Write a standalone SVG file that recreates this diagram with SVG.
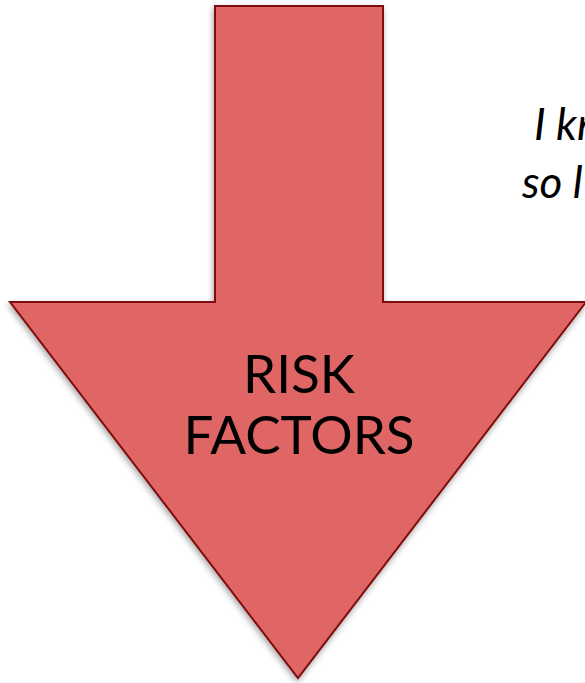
<svg xmlns="http://www.w3.org/2000/svg" width="585" height="683" viewBox="0 0 585 683">
  <defs>
    <filter id="shadow" x="-10%" y="-10%" width="120%" height="120%">
      <feDropShadow dx="-1" dy="3" stdDeviation="3" flood-color="#000" flood-opacity="0.35"/>
    </filter>
    <style>
      .arrow { fill: #e06666; stroke: #7f0d0d; stroke-width: 2; stroke-linejoin: miter; }
      .label { font-family: "Source Sans Pro", "Lato", "Noto Sans", sans-serif; font-size: 53px; fill: #000; text-anchor: middle; }
      .note { font-family: "Source Sans Pro", "Lato", "Noto Sans", sans-serif; font-style: italic; font-size: 44px; fill: #000; }
    </style>
  </defs>
  <rect width="585" height="683" fill="#ffffff"/>
  <g id="risk-factors">
    <polygon class="arrow" filter="url(#shadow)" points="215,6 383,6 383,302 586,302 298,678 10,302 215,302"/>
    <text class="label" x="299" y="393">RISK</text>
    <text class="label" x="299" y="454">FACTORS</text>
  </g>
  <g id="note">
    <text class="note" x="534" y="140">I kn</text>
    <text class="note" x="522" y="198">so l</text>
  </g>
  <g id="connectors"/>
</svg>
